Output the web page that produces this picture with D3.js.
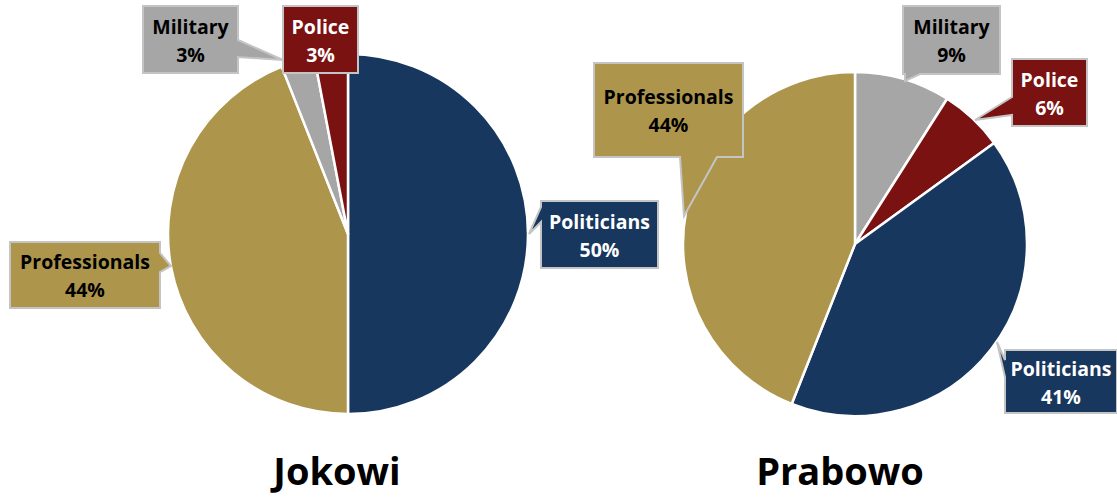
<!DOCTYPE html>
<html>
<head>
<meta charset="utf-8">
<script src="https://cdn.jsdelivr.net/npm/d3@7"></script>
<style>
  body { margin: 0; background: #fff; }
  svg { display: block; }
  text { font-family: "Open Sans", sans-serif; font-weight: bold; }
</style>
</head>
<body>
<div id="chart"></div>
<script>
(function(){
    var width = 1117,
        height = 498;

    // data
    var categories = ["Politicians", "Professionals", "Military", "Police"];
    var jokowiValues = [50, 44, 3, 3];
    var prabowoValues = [41, 44, 9, 6];
    // slice order clockwise from 12 o'clock
    var jokowiOrder = ["Politicians", "Professionals", "Military", "Police"];
    var prabowoOrder = ["Military", "Police", "Politicians", "Professionals"];

    var colors = {
        "Politicians": "#17375e",
        "Professionals": "#ad964c",
        "Military": "#a6a6a6",
        "Police": "#7a1212"
    };
    var textColors = {
        "Politicians": "#fff",
        "Professionals": "#000",
        "Military": "#000",
        "Police": "#fff"
    };

    // callout layout (box in page px, pointer base on a side, tip)
    var jokowiLabels = [
        {cat: "Military", x: 143, y: 6, w: 95, h: 67, side: "right", b: [40, 57], tip: [283, 60]},
        {cat: "Police", x: 283, y: 6, w: 75, h: 67, side: null},
        {cat: "Professionals", x: 10, y: 242, w: 150, h: 66, side: "right", b: [253, 272], tip: [171, 266]},
        {cat: "Politicians", x: 541, y: 201, w: 117, h: 67, side: "left", b: [207, 222], tip: [529, 234]}
    ];
    var prabowoLabels = [
        {cat: "Military", x: 903, y: 6, w: 97, h: 68, side: "bottom", b: [905, 920], tip: [905, 81]},
        {cat: "Police", x: 1012, y: 59, w: 75, h: 67, side: "left", b: [97, 115], tip: [975, 120]},
        {cat: "Professionals", x: 594, y: 63, w: 149, h: 94, side: "bottom", b: [680, 717], tip: [684, 216]},
        {cat: "Politicians", x: 1005, y: 350, w: 112, h: 63, side: "left", b: [360, 377], tip: [997, 342]}
    ];

    var svg = d3.select("#chart")
        .append("svg")
        .attr("width", width)
        .attr("height", height);

    function valueOf(values, cat) {
        return values[categories.indexOf(cat)];
    }

    function calloutPath(l) {
        var x0 = l.x, y0 = l.y, x1 = l.x + l.w, y1 = l.y + l.h;
        var pts = [[x0, y0], [x1, y0]];
        if (l.side === "right") pts.push([x1, l.b[0]], l.tip, [x1, l.b[1]]);
        pts.push([x1, y1]);
        if (l.side === "bottom") pts.push([l.b[1], y1], l.tip, [l.b[0], y1]);
        pts.push([x0, y1]);
        if (l.side === "left") pts.push([x0, l.b[1]], l.tip, [x0, l.b[0]]);
        return "M" + pts.map(function(p){ return p[0] + "," + p[1]; }).join("L") + "Z";
    }

    function drawPie(cx, cy, r, values, order, labels, title, tx, ty) {
        var data = order.map(function(c){ return {cat: c, value: valueOf(values, c)}; });

        var pie = d3.pie()
            .sort(null)
            .value(function(d){ return d.value; });

        var arc = d3.arc().innerRadius(0).outerRadius(r);

        var g = svg.append("g")
            .attr("transform", "translate(" + cx + "," + cy + ")");

        g.selectAll(".slice")
            .data(pie(data))
            .enter().append("path")
            .attr("class", "slice")
            .attr("d", arc)
            .attr("fill", function(d){ return colors[d.data.cat]; })
            .attr("stroke", "#fff")
            .attr("stroke-width", 2.5)
            .attr("stroke-linejoin", "round");

        var lg = svg.selectAll(null)
            .data(labels)
            .enter().append("g");

        lg.append("path")
            .attr("d", calloutPath)
            .attr("fill", function(d){ return colors[d.cat]; })
            .attr("stroke", "#c4c4c4")
            .attr("stroke-width", 2);

        lg.append("text")
            .attr("x", function(d){ return d.x + d.w / 2; })
            .attr("y", function(d){ return d.y + d.h / 2 - 6; })
            .attr("text-anchor", "middle")
            .attr("font-size", 19.5)
            .attr("fill", function(d){ return textColors[d.cat]; })
            .text(function(d){ return d.cat; });

        lg.append("text")
            .attr("x", function(d){ return d.x + d.w / 2; })
            .attr("y", function(d){ return d.y + d.h / 2 + 22; })
            .attr("text-anchor", "middle")
            .attr("font-size", 19.5)
            .attr("fill", function(d){ return textColors[d.cat]; })
            .text(function(d){ return valueOf(values, d.cat) + "%"; });

        svg.append("text")
            .attr("x", tx)
            .attr("y", ty)
            .attr("text-anchor", "middle")
            .attr("font-size", 38)
            .attr("fill", "#000")
            .text(title);
    }

    drawPie(348, 234, 180, jokowiValues, jokowiOrder, jokowiLabels, "Jokowi", 337, 485);
    drawPie(855, 244, 172, prabowoValues, prabowoOrder, prabowoLabels, "Prabowo", 840, 485);
})();
</script>
</body>
</html>
